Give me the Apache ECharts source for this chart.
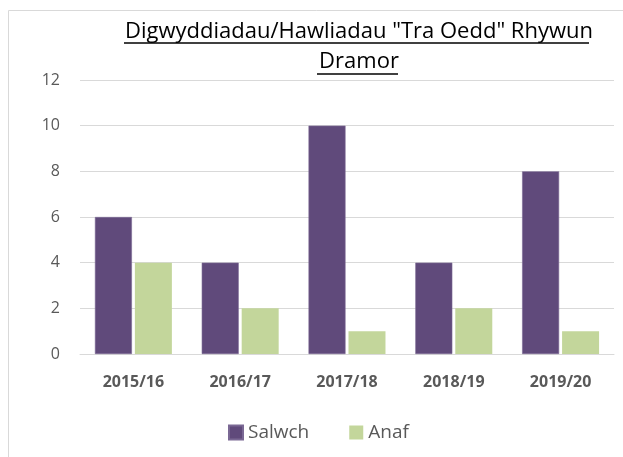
<!DOCTYPE html>
<html>
<head>
<meta charset="utf-8">
<script src="https://cdn.jsdelivr.net/npm/echarts@6/dist/echarts.min.js"></script>
<style>
  html, body { margin: 0; padding: 0; background: #fff; }
  #chart { width: 623px; height: 457px; }
</style>
</head>
<body>
<div id="chart"></div>
<script>
const years = ['2015/16', '2016/17', '2017/18', '2018/19', '2019/20'];
const salwch = [6, 4, 10, 4, 8];
const anaf = [4, 2, 1, 2, 1];

const chart = echarts.init(document.getElementById('chart'), null, { renderer: 'canvas' });

const font = '"Open Sans", "Noto Sans", sans-serif';

chart.setOption({
    animation: false,
    textStyle: { fontFamily: font },
    title: {
        text: 'Digwyddiadau/Hawliadau "Tra Oedd" Rhywun\nDramor',
        left: 354,
        top: 12,
        textAlign: 'center',
        textStyle: {
            fontFamily: font,
            fontSize: 22,
            fontWeight: 'normal',
            color: '#000',
            lineHeight: 30
        }
    },
    graphic: [
        // chart border
        { type: 'rect', shape: { x: 8.5, y: 10.5, width: 700, height: 500 },
          style: { fill: 'none', stroke: '#D9D9D9', lineWidth: 1 }, silent: true },
        // title underlines (no text-decoration in zrender)
        { type: 'line', shape: { x1: 124, y1: 43, x2: 589, y2: 43 },
          style: { stroke: '#000', lineWidth: 1.3 } },
        { type: 'line', shape: { x1: 317, y1: 74, x2: 398, y2: 74 },
          style: { stroke: '#000', lineWidth: 1.3 } }
    ],
    legend: {
        data: ['Salwch', 'Anaf'],
        left: 223,
        top: 418,
        itemWidth: 14,
        itemHeight: 14,
        itemGap: 40,
        icon: 'rect',
        textStyle: { fontFamily: font, fontSize: 19, color: '#595959' }
    },
    grid: {
        left: 80,
        right: 9,
        top: 80,
        bottom: 103,
        containLabel: false
    },
    xAxis: {
        type: 'category',
        data: years,
        axisLine: { lineStyle: { color: '#D9D9D9', width: 1 } },
        axisTick: { show: false },
        axisLabel: {
            margin: 20,
            fontFamily: font,
            fontSize: 16,
            fontWeight: 'bold',
            color: '#595959'
        }
    },
    yAxis: {
        type: 'value',
        min: 0,
        max: 12,
        interval: 2,
        axisLine: { show: false },
        axisTick: { show: false },
        splitLine: { lineStyle: { color: '#D9D9D9', width: 1 } },
        axisLabel: {
            margin: 20,
            fontFamily: font,
            fontSize: 16,
            color: '#595959'
        }
    },
    series: [
        {
            name: 'Salwch',
            type: 'bar',
            data: salwch,
            barWidth: 37,
            barGap: '8%',
            itemStyle: { color: '#604A7B', borderColor: '#7A6894', borderWidth: 0.6 }
        },
        {
            name: 'Anaf',
            type: 'bar',
            data: anaf,
            barWidth: 37,
            itemStyle: { color: '#C3D69B' }
        }
    ]
});
</script>
</body>
</html>
